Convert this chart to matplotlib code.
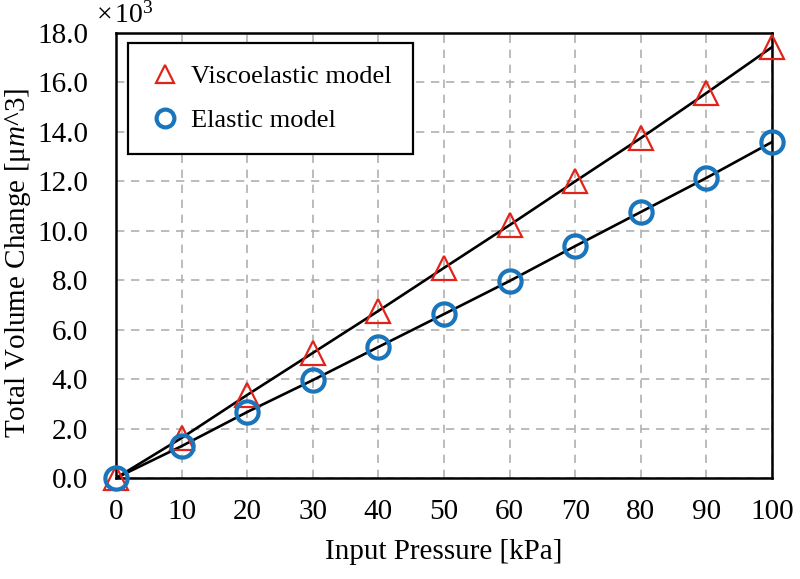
import matplotlib
matplotlib.use("Agg")
import matplotlib.pyplot as plt
from matplotlib.ticker import FormatStrFormatter

# data (volume in 10^3 um^3)
pressure = [0, 10, 20, 30, 40, 50, 60, 70, 80, 90, 100]
visco = [0.0, 1.62, 3.36, 5.06, 6.76, 8.5, 10.23, 12.0, 13.75, 15.57, 17.43]
elastic = [0.0, 1.29, 2.67, 3.96, 5.3, 6.63, 7.97, 9.38, 10.76, 12.14, 13.59]

plt.rcParams['font.family'] = ['Liberation Serif', 'DejaVu Serif']
plt.rcParams['mathtext.fontset'] = 'custom'
plt.rcParams['mathtext.rm'] = 'Liberation Serif'
plt.rcParams['mathtext.it'] = 'Liberation Serif:italic'

fig = plt.figure(figsize=(8, 5.79), dpi=100)
ax = fig.add_axes([0.145, 0.1744, 0.82, 0.7686])

ax.plot(pressure, visco, color='black', lw=1.9, zorder=3)
ax.plot(pressure, elastic, color='black', lw=1.9, zorder=3)
ax.plot(pressure, visco, linestyle='none', marker='^', markersize=17, markerfacecolor='none',
        markeredgecolor='#e2231a', markeredgewidth=1.6, label='Viscoelastic model', zorder=4, clip_on=False)
ax.plot(pressure, elastic, linestyle='none', marker='o', markersize=16, markerfacecolor='none',
        markeredgecolor='#1b75bb', markeredgewidth=3, label='Elastic model', zorder=4, clip_on=False)

ax.set_xlim(0, 100)
ax.set_ylim(0, 18)
ax.set_xticks(pressure)
ax.set_yticks(range(0, 19, 2))
ax.yaxis.set_major_formatter(FormatStrFormatter('%.1f'))
ax.tick_params(length=0, labelsize=21)
ax.tick_params(axis='y', pad=20)
ax.tick_params(axis='x', pad=15)
ax.grid(True, color='#b0b0b0', linestyle=(0, (5, 4)), lw=1.2)
for s in ax.spines.values():
    s.set_linewidth(1.8)

ax.set_xlabel('Input Pressure [kPa]', fontsize=21, labelpad=10)
fig.text(3 / 800, 1 - 263 / 579, 'Total Volume Change [μ$m$^3]', fontsize=21,
         rotation=90, ha='left', va='center')
ax.text(-0.03, 1.01, r'$\times\,10^3$', transform=ax.transAxes, fontsize=20, ha='left', va='bottom')

leg = ax.legend(loc='upper left', bbox_to_anchor=(0.018, 0.977), borderaxespad=0, fontsize=19,
                fancybox=False, edgecolor='black', framealpha=1, borderpad=0.8, labelspacing=0.8,
                handlelength=1.2, handletextpad=0.4, markerscale=0.8)
leg.get_frame().set_linewidth(1.6)

fig.savefig('out.png', dpi=100)
